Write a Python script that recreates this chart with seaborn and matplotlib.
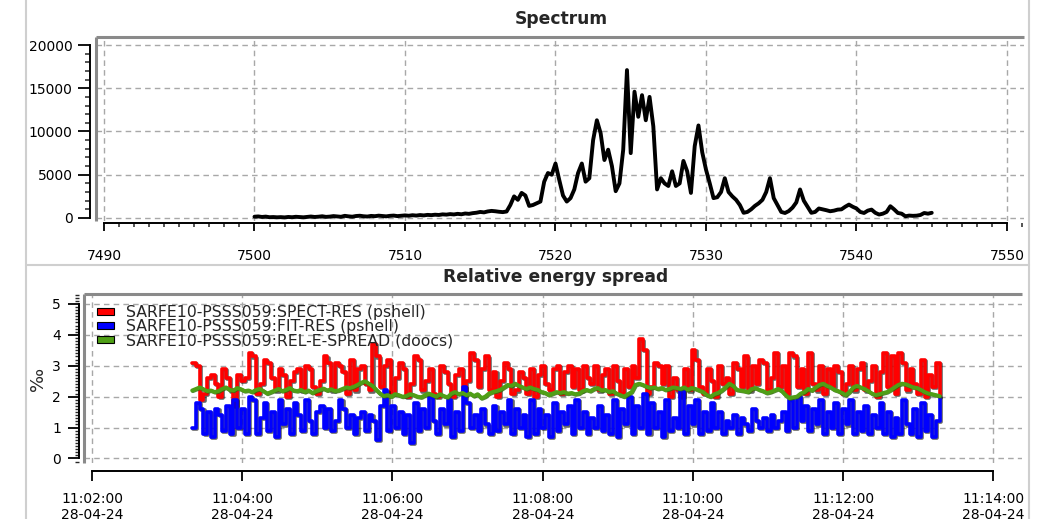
import numpy as np
import pandas as pd
import seaborn as sns
import matplotlib.pyplot as plt
import matplotlib.dates as mdates
import matplotlib.patheffects as pe
from matplotlib.patches import Patch
from matplotlib.lines import Line2D
from matplotlib.ticker import MultipleLocator

# spectrum, one row per eV (steps of 0.25 eV), 7500 .. 7545
energy_start = 7500.0
energy_step = 0.25
spectrum = [
    150, 180, 120, 160,
    90, 110, 80, 100,
    70, 120, 90, 140,
    110, 80, 130, 170,
    120, 150, 200, 130,
    160, 220, 180, 140,
    250, 190, 150, 230,
    260, 200, 170, 240,
    210, 270, 230, 190,
    250, 280, 220, 260,
    300, 260, 320, 280,
    340, 300, 360, 330,
    380, 350, 420, 390,
    450, 410, 480, 430,
    520, 480, 560, 610,
    700, 650, 760, 820,
    780, 720, 680, 750,
    1500, 2500, 2100, 2900,
    2600, 1400, 1500, 1700,
    1900, 4200, 5200, 5000,
    6300, 4400, 2600, 1900,
    2300, 3300, 5200, 6300,
    4200, 4600, 9000, 11300,
    9800, 6700, 7900, 6000,
    3100, 4000, 7900, 17100,
    7500, 14600, 11700, 14200,
    11300, 14000, 10600, 3300,
    4600, 4000, 3700, 5400,
    3700, 4000, 6600, 5400,
    2900, 8300, 10700, 7600,
    5600, 4000, 2300, 2400,
    3000, 4600, 3000, 2500,
    2100, 1500, 600, 700,
    1000, 1400, 1700, 2100,
    3000, 4600, 2300, 1500,
    700, 580, 800, 1200,
    1800, 3300, 2000, 1300,
    600, 700, 1100, 1000,
    900, 780, 850, 970,
    1000, 1300, 1550, 1300,
    1100, 700, 580, 850,
    970, 600, 400, 500,
    700, 1360, 1000, 580,
    500, 200, 280, 250,
    270, 350, 580, 500,
    600,
]
energy_ticks = [7490, 7500, 7510, 7520, 7530, 7540, 7550]
intensity_ticks = [0, 5000, 10000, 15000, 20000]

# relative energy spread, one value every 3 s from 11:03:20 (one row = 30 s)
spread_start = "2024-04-28 11:03:20"
spect_res = [
    3.1, 3.0, 1.9, 2.1, 2.6, 2.7, 2.4, 2.0, 2.9, 2.6,
    2.2, 1.7, 2.7, 2.5, 2.6, 3.4, 3.3, 2.1, 2.4, 3.2,
    3.1, 2.6, 2.2, 2.9, 2.7, 2.0, 2.5, 2.8, 2.9, 2.2,
    3.0, 2.9, 2.3, 2.1, 2.5, 3.3, 3.1, 2.2, 3.1, 3.0,
    2.8, 2.1, 3.2, 2.2, 2.9, 3.0, 2.4, 2.2, 3.7, 3.3,
    2.3, 3.0, 3.2, 2.1, 2.6, 3.1, 2.9, 2.0, 2.4, 3.3,
    3.2, 2.2, 2.5, 2.9, 2.1, 2.0, 3.0, 2.8, 2.4, 2.0,
    2.7, 2.9, 2.1, 2.5, 3.4, 3.2, 2.3, 2.9, 3.3, 2.2,
    2.8, 2.0, 2.5, 3.1, 2.9, 2.1, 2.2, 2.8, 2.6, 2.1,
    2.9, 2.0, 2.7, 3.0, 2.4, 2.2, 2.9, 3.0, 2.1, 2.8,
    3.0, 2.3, 2.9, 2.2, 3.0, 2.6, 2.4, 3.0, 2.2, 2.7,
    2.9, 2.1, 3.0, 2.5, 2.1, 2.9, 2.3, 3.0, 2.6, 3.85,
    3.5, 2.1, 2.3, 3.1, 3.0, 2.4, 3.0, 2.0, 2.6, 2.2,
    2.0, 2.9, 2.2, 3.5, 3.2, 2.3, 2.1, 2.9, 2.5, 2.0,
    3.0, 2.4, 2.6, 2.1, 3.1, 2.9, 2.3, 3.3, 2.2, 3.0,
    2.4, 3.2, 3.1, 2.2, 2.6, 3.4, 2.3, 3.0, 2.1, 3.4,
    3.3, 2.3, 2.9, 2.1, 3.4, 2.4, 2.2, 3.0, 2.1, 2.9,
    2.3, 3.0, 2.8, 2.1, 2.4, 3.0, 2.2, 2.9, 3.1, 2.2,
    2.5, 3.0, 2.0, 2.8, 3.4, 2.3, 3.3, 2.1, 3.4, 3.1,
    2.2, 2.9, 2.4, 2.1, 3.2, 2.0, 2.7, 2.3, 3.1, 2.0,
]
fit_res = [
    1.0, 1.8, 1.6, 0.8, 1.5, 0.7, 1.6, 1.4, 0.9, 1.7,
    0.8, 1.9, 1.0, 1.6, 0.8, 2.0, 1.9, 0.8, 1.3, 1.8,
    0.9, 1.5, 0.7, 1.9, 1.1, 1.6, 0.8, 1.8, 1.4, 0.9,
    1.9, 1.2, 0.8, 1.5, 1.7, 1.0, 1.6, 0.9, 1.2, 1.9,
    1.6, 1.0, 1.4, 0.8, 1.3, 1.5, 0.9, 1.4, 1.2, 0.6,
    1.7, 2.2, 0.9, 1.7, 1.0, 1.5, 0.8, 1.4, 0.5, 1.8,
    0.9, 1.6, 1.0, 2.0, 1.2, 0.8, 1.6, 1.1, 1.9, 0.7,
    1.5, 0.9, 2.3, 1.8, 1.0, 1.4, 0.9, 1.6, 1.1, 0.8,
    1.7, 0.9, 1.5, 1.1, 1.9, 0.8, 1.6, 1.0, 1.4, 0.7,
    1.9, 0.8, 1.6, 1.0, 1.4, 0.7, 1.8, 0.9, 1.5, 1.1,
    1.7, 0.8, 1.9, 1.0, 1.5, 0.8, 1.3, 1.0, 1.7, 0.9,
    1.4, 0.8, 1.9, 0.7, 1.6, 1.1, 2.0, 0.8, 1.7, 1.0,
    2.1, 0.8, 1.8, 1.0, 1.5, 0.7, 1.9, 0.9, 1.3, 1.0,
    2.2, 0.8, 1.7, 1.1, 1.9, 0.8, 1.5, 0.9, 1.8, 1.0,
    1.5, 0.8, 1.2, 1.0, 1.4, 0.8, 1.3, 1.1, 0.9, 1.6,
    1.2, 1.0, 1.3, 0.9, 1.4, 1.0, 1.2, 1.5, 0.9, 1.9,
    1.0, 2.0, 1.2, 1.7, 0.9, 1.6, 1.1, 1.9, 0.8, 1.5,
    1.0, 1.8, 0.8, 1.6, 1.1, 1.9, 0.8, 1.5, 0.9, 1.7,
    0.8, 1.4, 1.0, 1.8, 0.8, 1.5, 0.7, 1.3, 0.8, 1.9,
    1.1, 0.8, 1.6, 0.7, 1.8, 0.9, 1.4, 0.7, 1.2, 2.0,
]
rel_e_spread = [
    2.20, 2.25, 2.30, 2.24, 2.18, 2.20, 2.15, 2.18, 2.25, 2.30,
    2.22, 2.20, 2.28, 2.24, 2.18, 2.20, 2.15, 2.22, 2.25, 2.18,
    2.10, 2.15, 2.20, 2.25, 2.18, 2.22, 2.28, 2.20, 2.18, 2.22,
    2.15, 2.20, 2.12, 2.18, 2.22, 2.26, 2.20, 2.24, 2.18, 2.20,
    2.25, 2.30, 2.28, 2.32, 2.38, 2.45, 2.50, 2.42, 2.35, 2.22,
    2.10, 2.02, 2.05, 2.00, 2.08, 2.05, 2.00, 2.02, 2.08, 2.05,
    2.00, 1.98, 2.05, 2.10, 2.05, 2.00, 2.08, 2.02, 1.98, 2.10,
    2.15, 2.08, 2.12, 2.05, 2.10, 2.02, 2.08, 1.95, 2.00, 2.10,
    2.15, 2.18, 2.22, 2.30, 2.38, 2.35, 2.42, 2.35, 2.30, 2.25,
    2.30, 2.25, 2.22, 2.15, 2.12, 2.05, 2.10, 2.15, 2.12, 2.15,
    2.10, 2.12, 2.08, 2.10, 2.18, 2.22, 2.18, 2.25, 2.28, 2.20,
    2.22, 2.15, 2.18, 2.10, 2.05, 2.00, 2.08, 2.15, 2.38, 2.42,
    2.38, 2.32, 2.28, 2.30, 2.25, 2.28, 2.22, 2.25, 2.30, 2.28,
    2.25, 2.30, 2.22, 2.28, 2.25, 2.20, 2.15, 2.05, 2.00, 2.08,
    2.12, 2.20, 2.30, 2.42, 2.35, 2.22, 2.20, 2.18, 2.15, 2.25,
    2.28, 2.22, 2.18, 2.12, 2.15, 2.20, 2.25, 2.18, 2.05, 1.95,
    1.98, 2.00, 2.10, 2.15, 2.25, 2.20, 2.30, 2.38, 2.42, 2.35,
    2.30, 2.22, 2.18, 2.12, 2.05, 2.15, 2.30, 2.35, 2.30, 2.25,
    2.18, 2.10, 2.05, 2.08, 2.12, 2.15, 2.22, 2.30, 2.38, 2.42,
    2.40, 2.35, 2.30, 2.28, 2.22, 2.15, 2.10, 2.08, 2.05, 2.02,
]
series_names = [
    "SARFE10-PSSS059:SPECT-RES (pshell)",
    "SARFE10-PSSS059:FIT-RES (pshell)",
    "SARFE10-PSSS059:REL-E-SPREAD (doocs)",
]
series_colors = ["#ff0000", "#0000ff", "#4f9f16"]
time_ticks = pd.date_range("2024-04-28 11:02:00", "2024-04-28 11:14:00", freq="2min")
spread_ticks = [0, 1, 2, 3, 4, 5]

spec_df = pd.DataFrame({
    "energy": energy_start + energy_step * np.arange(len(spectrum)),
    "intensity": spectrum,
})
spread_df = pd.DataFrame({
    "time": pd.date_range(spread_start, periods=len(spect_res), freq="3s"),
    "spect": spect_res,
    "fit": fit_res,
    "rel": rel_e_spread,
})

sns.set_style("white")
plt.rcParams["font.family"] = ["DejaVu Sans"]

W, H = 1046, 519
fig = plt.figure(figsize=(W / 100, H / 100), dpi=100)
fig.patch.set_facecolor("white")

grid_kw = dict(color="#a8a8a8", linestyle=(0, (4, 3)), linewidth=1.0)
frame_color = "#8a8a8a"


def style_axes(ax, left_px):
    for side in ["top", "right"]:
        ax.spines[side].set_visible(False)
    ax.spines["left"].set_position(("outward", left_px * 0.72))
    ax.spines["left"].set_color("black")
    ax.spines["left"].set_linewidth(1.4)
    ax.spines["bottom"].set_color("black")
    ax.spines["bottom"].set_linewidth(1.4)
    ax.grid(True, which="major", **grid_kw)
    ax.set_axisbelow(True)
    # grey frame on top and left of the plot area
    ax.plot([0, 0], [0, 1], transform=ax.transAxes, color=frame_color,
            lw=2.2, clip_on=False, zorder=5, solid_capstyle="butt")
    ax.plot([0, 1], [1, 1], transform=ax.transAxes, color=frame_color,
            lw=2.2, clip_on=False, zorder=5, solid_capstyle="butt")
    ax.tick_params(labelsize=10, colors="black")


# ---- Spectrum ----
ax1 = fig.add_axes([96 / W, 1 - 221 / H, (1024 - 96) / W, (221 - 37) / H])
sns.lineplot(data=spec_df, x="energy", y="intensity", ax=ax1, color="black",
             lw=2.8, estimator=None, legend=False)
ax1.set_xlim(7489.47, 7551.13)
ax1.set_ylim(-347, 20925)
style_axes(ax1, 6)
ax1.spines["bottom"].set_position(("outward", 1.5))
ax1.spines["bottom"].set_bounds(energy_ticks[0], energy_ticks[-1])
ax1.spines["left"].set_bounds(intensity_ticks[0], intensity_ticks[-1])
ax1.set_xticks(energy_ticks)
ax1.set_yticks(intensity_ticks)
ax1.xaxis.set_minor_locator(MultipleLocator(1))
ax1.yaxis.set_minor_locator(MultipleLocator(1000))
ax1.tick_params(axis="y", which="major", direction="out", length=8.5, width=1.3, pad=4, left=True)
ax1.tick_params(axis="y", which="minor", direction="out", length=3.5, width=1.1, left=True)
ax1.tick_params(axis="x", which="major", direction="out", length=5.5, width=1.3, pad=13, bottom=True)
ax1.tick_params(axis="x", which="minor", direction="out", length=3.0, width=1.1, bottom=True)
ax1.set_xlabel("")
ax1.set_ylabel("")
fig.text(561 / W, 1 - 19 / H, "Spectrum", ha="center", va="center",
         fontsize=12.3, fontweight="bold")

# ---- Relative energy spread ----
ax2 = fig.add_axes([84 / W, 1 - 463 / H, (1022 - 84) / W, (463 - 294) / H])
shadow = [pe.SimpleLineShadow(offset=(0.8, -0.8), shadow_color="black", alpha=0.6), pe.Normal()]
for col, color in zip(["spect", "fit"], series_colors[:2]):
    sns.lineplot(data=spread_df, x="time", y=col, ax=ax2, color=color, lw=2.6,
                 drawstyle="steps-post", estimator=None, legend=False,
                 path_effects=shadow)
sns.lineplot(data=spread_df, x="time", y="rel", ax=ax2, color=series_colors[2], lw=2.8,
             estimator=None, legend=False,
             path_effects=[pe.SimpleLineShadow(offset=(0.5, -0.5), shadow_color="#2d6b08", alpha=0.8),
                           pe.Normal()])
t_left = time_ticks[0] - pd.Timedelta(seconds=6.4)
t_right = time_ticks[0] + pd.Timedelta(minutes=12.38)
ax2.set_xlim(t_left, t_right)
ax2.set_ylim(-0.146, 5.32)
style_axes(ax2, 5)
ax2.spines["bottom"].set_position(("outward", 8 * 0.72))
ax2.spines["bottom"].set_bounds(mdates.date2num(time_ticks[0]), mdates.date2num(time_ticks[-1]))
ax2.spines["left"].set_bounds(spread_ticks[0], spread_ticks[-1])
ax2.set_xticks(time_ticks)
ax2.xaxis.set_major_formatter(mdates.DateFormatter("%H:%M:%S\n%d-%m-%y"))
ax2.set_yticks(spread_ticks)
ax2.yaxis.set_minor_locator(MultipleLocator(0.1))
ax2.tick_params(axis="y", which="major", direction="out", length=8, width=1.3, pad=5, left=True)
ax2.tick_params(axis="y", which="minor", direction="out", length=3, width=1.0, left=True)
ax2.tick_params(axis="x", which="major", direction="out", length=7.2, width=1.3, pad=8, bottom=True)
ax2.set_xlabel("")
ax2.set_ylabel("‰", fontsize=13, labelpad=4)
for lab in ax2.get_xticklabels():
    lab.set_linespacing(1.15)
fig.text(556 / W, 1 - 277 / H, "Relative energy spread", ha="center", va="center",
         fontsize=12.3, fontweight="bold")

handles = [Patch(facecolor=c, edgecolor="black", linewidth=0.8) for c in series_colors]
ax2.legend(handles, series_names, loc="upper left", bbox_to_anchor=(0.014, 0.935),
           frameon=False, fontsize=11.3, borderpad=0, borderaxespad=0,
           labelspacing=-0.06, handlelength=1.08, handleheight=0.36, handletextpad=0.78)

# panel borders of the viewer
border = "#cfcfcf"
fig.add_artist(Line2D([26 / W, 26 / W], [0, 1], transform=fig.transFigure, color=border, lw=1.5))
fig.add_artist(Line2D([1029 / W, 1029 / W], [0, 1], transform=fig.transFigure, color=border, lw=1.5))
fig.add_artist(Line2D([26 / W, 1029 / W], [1 - 265 / H, 1 - 265 / H], transform=fig.transFigure, color=border, lw=1.5))

plt.savefig("out.png", dpi=100)
